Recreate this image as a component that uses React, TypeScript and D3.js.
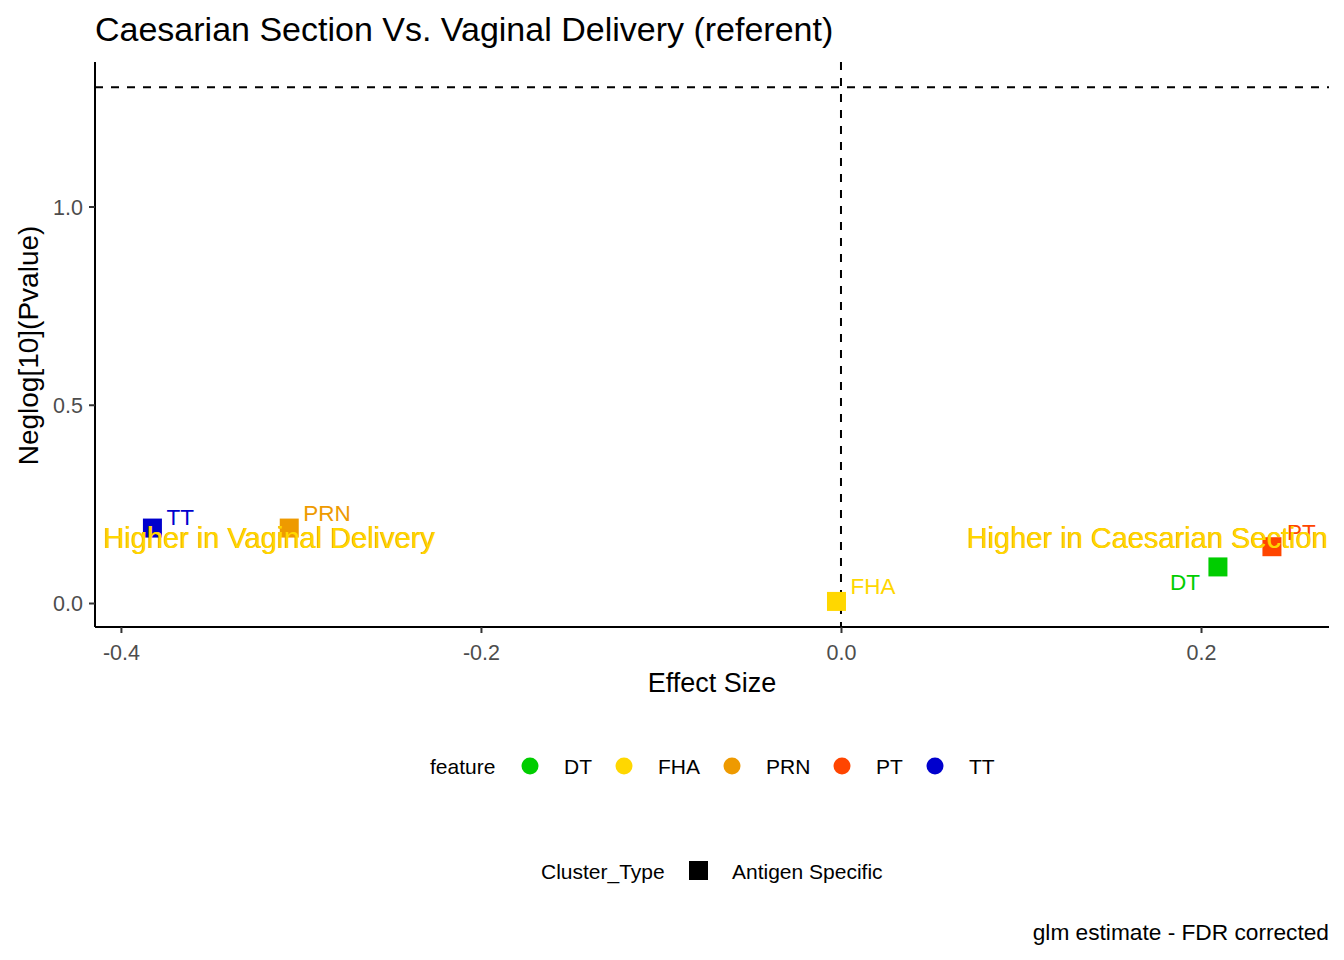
import React, { useEffect, useRef } from 'react';
import * as d3 from 'd3';

// antigen features with effect size (glm estimate) and -log10 p value
const features = ['DT', 'FHA', 'PRN', 'PT', 'TT'];
const effectSize = [0.2094, -0.0025, -0.3065, 0.2394, -0.3825];
const negLogP = [0.091, 0.004, 0.189, 0.142, 0.189];
const featureColors = ['#00CD00', '#FFD700', '#EE9A00', '#FF4500', '#0000CD'];

// repelled label offsets (px) from point centre
const labelDx = [-18, 14, 14, 15, 14];
const labelDy = [23, -7, -7, -7, -3];
const labelAnchor = ['end', 'start', 'start', 'start', 'start'];

const xTicks = [-0.4, -0.2, 0.0, 0.2];
const yTicks = [0.0, 0.5, 1.0];

const annotations = [
  { text: 'Higher in Vaginal Delivery', x: -0.3175, y: 0.165 },
  { text: 'Higher in Caesarian Section', x: 0.1703, y: 0.165 },
];

const significance = -Math.log10(0.05);

const W = 1344;
const H = 960;
const left = 95;
const right = 1329;
const top = 62;
const bottom = 627;
const font = '"Liberation Sans", Arial, sans-serif';

const fmt = (d: number) => d.toFixed(1).replace('\u2212', '-');

const App: React.FC = () => {
  const svgRef = useRef<SVGSVGElement>(null);

  useEffect(() => {
    if (!svgRef.current) return;
    const svg = d3.select(svgRef.current);
    svg.selectAll('*').remove();

    const x = d3.scaleLinear().domain([-0.4144, 0.2711]).range([left, right]);
    const y = d3.scaleLinear().domain([-0.0605, 1.3644]).range([bottom, top]);

    svg.append('rect').attr('width', W).attr('height', H).attr('fill', '#fff');

    // title
    svg.append('text')
      .attr('x', left).attr('y', 41)
      .attr('font-size', 34).attr('fill', '#000')
      .text('Caesarian Section Vs. Vaginal Delivery (referent)');

    // reference lines
    svg.append('line')
      .attr('x1', left).attr('x2', right)
      .attr('y1', y(significance)).attr('y2', y(significance))
      .attr('stroke', '#000').attr('stroke-width', 2).attr('stroke-dasharray', '8,8');
    svg.append('line')
      .attr('x1', x(0)).attr('x2', x(0))
      .attr('y1', top).attr('y2', bottom)
      .attr('stroke', '#000').attr('stroke-width', 2).attr('stroke-dasharray', '8,8');

    // points
    const sq = 19;
    svg.append('g').selectAll('rect')
      .data(features)
      .enter().append('rect')
      .attr('x', (d, i) => x(effectSize[i]) - sq / 2)
      .attr('y', (d, i) => y(negLogP[i]) - sq / 2)
      .attr('width', sq).attr('height', sq)
      .attr('fill', (d, i) => featureColors[i]);

    // point labels
    svg.append('g').selectAll('text')
      .data(features)
      .enter().append('text')
      .attr('x', (d, i) => x(effectSize[i]) + labelDx[i])
      .attr('y', (d, i) => y(negLogP[i]) + labelDy[i])
      .attr('text-anchor', (d, i) => labelAnchor[i])
      .attr('font-size', 22.5)
      .attr('fill', (d, i) => featureColors[i])
      .text(d => d);

    // direction annotations (orange fringe under gold)
    const ann = svg.append('g').attr('font-size', 29).attr('text-anchor', 'middle');
    ann.selectAll('text.under')
      .data(annotations)
      .enter().append('text')
      .attr('class', 'under')
      .attr('x', d => x(d.x) - 0.6).attr('y', d => y(d.y)).attr('dy', '0.35em')
      .attr('fill', '#EE9A00')
      .text(d => d.text);
    ann.selectAll('text.over')
      .data(annotations)
      .enter().append('text')
      .attr('class', 'over')
      .attr('x', d => x(d.x)).attr('y', d => y(d.y)).attr('dy', '0.35em')
      .attr('fill', '#FFD700')
      .text(d => d.text);

    // axes
    const xAxis = svg.append('g')
      .attr('transform', `translate(0,${bottom})`)
      .call(d3.axisBottom(x).tickValues(xTicks).tickFormat(d => fmt(+d)).tickSize(6).tickSizeOuter(0));
    const yAxis = svg.append('g')
      .attr('transform', `translate(${left},0)`)
      .call(d3.axisLeft(y).tickValues(yTicks).tickFormat(d => fmt(+d)).tickSize(6).tickSizeOuter(0));
    [xAxis, yAxis].forEach(a => {
      a.select('.domain').attr('stroke', '#000').attr('stroke-width', 2);
      a.selectAll('.tick line').attr('stroke', '#333').attr('stroke-width', 2);
      a.selectAll('.tick text')
        .attr('font-family', font).attr('font-size', 21.5).attr('fill', '#4D4D4D');
    });
    xAxis.selectAll('.tick text').attr('dy', '1.1em');
    yAxis.selectAll('.tick text').attr('x', -12).attr('dy', '0.35em');
    xAxis.select('.domain').attr('d', `M${left},0H${right}`);
    yAxis.select('.domain').attr('d', `M0,${top}V${bottom}`);

    // axis titles
    svg.append('text')
      .attr('x', (left + right) / 2).attr('y', 692)
      .attr('text-anchor', 'middle').attr('font-size', 27)
      .text('Effect Size');
    svg.append('text')
      .attr('transform', `translate(38,${(top + bottom) / 2 + 1}) rotate(-90)`)
      .attr('text-anchor', 'middle').attr('font-size', 28)
      .text('Neglog[10](Pvalue)');

    // feature legend
    const lg = svg.append('g').attr('font-size', 21);
    lg.append('text').attr('x', 430).attr('y', 774).text('feature');
    const legX = [530, 624, 732, 842, 935];
    features.forEach((f, i) => {
      lg.append('circle').attr('cx', legX[i]).attr('cy', 766).attr('r', 8.5).attr('fill', featureColors[i]);
      lg.append('text').attr('x', legX[i] + 34).attr('y', 774).text(f);
    });

    // shape legend
    lg.append('text').attr('x', 541).attr('y', 879).text('Cluster_Type');
    lg.append('rect').attr('x', 689).attr('y', 861).attr('width', 19).attr('height', 19).attr('fill', '#000');
    lg.append('text').attr('x', 732).attr('y', 879).text('Antigen Specific');

    // caption
    svg.append('text')
      .attr('x', right).attr('y', 940)
      .attr('text-anchor', 'end').attr('font-size', 22.7)
      .text('glm estimate - FDR corrected');
  }, []);

  return (
    <svg
      ref={svgRef}
      width={W}
      height={H}
      fontFamily={font}
      style={{ position: 'absolute', left: 0, top: 0 }}
    />
  );
};

export default App;
